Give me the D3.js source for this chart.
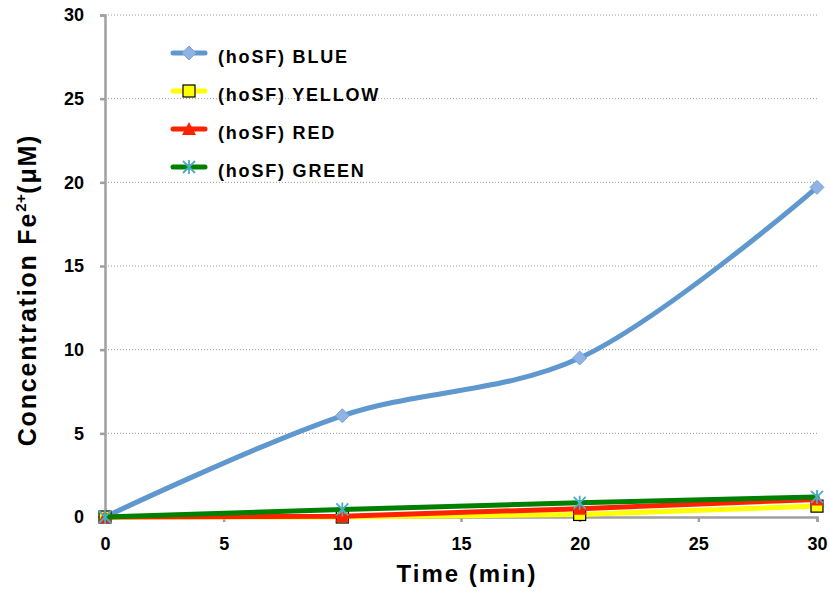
<!DOCTYPE html>
<html><head><meta charset="utf-8">
<script src="https://cdn.jsdelivr.net/npm/d3@7"></script>
<style>body{margin:0;background:#fff}svg{display:block;font-family:"Liberation Sans",Arial,sans-serif;font-weight:bold}</style>
</head><body><svg id="c" width="830" height="594"></svg>
<script>
const times = [0, 10, 20, 30];
const blue = [0, 6.05, 9.5, 19.7];
const yellow = [0, 0.0, 0.15, 0.65];
const red = [0, 0.05, 0.5, 1.05];
const green = [0, 0.45, 0.85, 1.2];
const seriesNames = ["(hoSF) BLUE", "(hoSF) YELLOW", "(hoSF) RED", "(hoSF) GREEN"];
const xTicks = [0, 5, 10, 15, 20, 25, 30];
const yTicks = [0, 5, 10, 15, 20, 25, 30];

const svg = d3.select("#c");
const x = d3.scaleLinear().domain([0, 30]).range([105, 817]);
const y = d3.scaleLinear().domain([0, 30]).range([517, 15]);

// gridlines
svg.append("g").selectAll("line").data(yTicks.filter(d => d > 0)).join("line")
  .attr("x1", x(0)).attr("x2", x(30)).attr("y1", d => y(d)).attr("y2", d => y(d))
  .attr("stroke", "#9a9a9a").attr("stroke-width", 1).attr("stroke-dasharray", "1,2");

// axes
const ax = svg.append("g").attr("transform", `translate(0,${y(0)})`)
  .call(d3.axisBottom(x).tickValues(xTicks).tickSize(5).tickPadding(15));
const ay = svg.append("g").attr("transform", `translate(${x(0)},0)`)
  .call(d3.axisLeft(y).tickValues(yTicks).tickSize(5).tickPadding(16));
[ax, ay].forEach(a => {
  a.select(".domain").attr("stroke", "#a0a0a0").attr("stroke-width", 2.5);
  a.selectAll(".tick line").attr("stroke", "#a0a0a0").attr("stroke-width", 2.5);
  a.selectAll("text").attr("fill", "#000").style("font-size", "18px").style("font-weight", "bold")
   .style("font-family", '"Liberation Sans",Arial,sans-serif');
});

// titles
svg.append("text").attr("x", 467).attr("y", 582).attr("text-anchor", "middle")
  .style("font-size", "24px").style("letter-spacing", "2px").text("Time (min)");
const yt = svg.append("text").attr("transform", "translate(36,290) rotate(-90)")
  .attr("text-anchor", "middle").style("font-size", "25px").style("letter-spacing", "1.8px");
yt.append("tspan").text("Concentration Fe");
yt.append("tspan").attr("dy", -10).style("font-size", "15px").style("letter-spacing", "0.5px").text("2+");
yt.append("tspan").attr("dy", 10).text("(μM)");

const series = [
  {vals: blue, color: "#5f97cf", curve: d3.curveCatmullRom.alpha(0.5), marker: "diamond"},
  {vals: yellow, color: "#ffff00", curve: d3.curveLinear, marker: "square"},
  {vals: red, color: "#ff2200", curve: d3.curveLinear, marker: "triangle"},
  {vals: green, color: "#008000", curve: d3.curveLinear, marker: "star"}
];

function drawMarker(g, type, cx, cy) {
  if (type === "diamond") {
    g.append("path").attr("d", `M${cx},${cy-7}L${cx+7},${cy}L${cx},${cy+7}L${cx-7},${cy}Z`)
      .attr("fill", "#8fb4e3").attr("stroke", "#7aa3d6").attr("stroke-width", 1);
  } else if (type === "square") {
    g.append("rect").attr("x", cx-6).attr("y", cy-6).attr("width", 12).attr("height", 12)
      .attr("fill", "#ffff00").attr("stroke", "#000").attr("stroke-width", 1.2);
  } else if (type === "triangle") {
    g.append("path").attr("d", `M${cx},${cy-7}L${cx+7},${cy+6}L${cx-7},${cy+6}Z`).attr("fill", "#ff2200");
  } else {
    const s = 6;
    g.append("path").attr("d", `M${cx-s},${cy-s}L${cx+s},${cy+s}M${cx-s},${cy+s}L${cx+s},${cy-s}M${cx},${cy-s-1}L${cx},${cy+s+1}`)
      .attr("stroke", "#4bacc6").attr("stroke-width", 1.8);
  }
}

series.forEach(s => {
  const g = svg.append("g");
  const line = d3.line().x((d, i) => x(times[i])).y(d => y(d)).curve(s.curve);
  g.append("path").attr("d", line(s.vals)).attr("fill", "none").attr("stroke", s.color)
    .attr("stroke-width", 5).attr("stroke-linecap", "round");
  s.vals.forEach((v, i) => drawMarker(g, s.marker, x(times[i]), y(v)));
});

// legend
const leg = svg.append("g");
series.forEach((s, i) => {
  const cy = 53 + i * 38;
  leg.append("line").attr("x1", 173).attr("x2", 205).attr("y1", cy).attr("y2", cy)
    .attr("stroke", s.color).attr("stroke-width", 5).attr("stroke-linecap", "round");
  drawMarker(leg, s.marker, 189, cy);
  leg.append("text").attr("x", 218).attr("y", cy + 10).style("font-size", "18px")
    .style("letter-spacing", "1.8px").text(seriesNames[i]);
});
</script></body></html>
